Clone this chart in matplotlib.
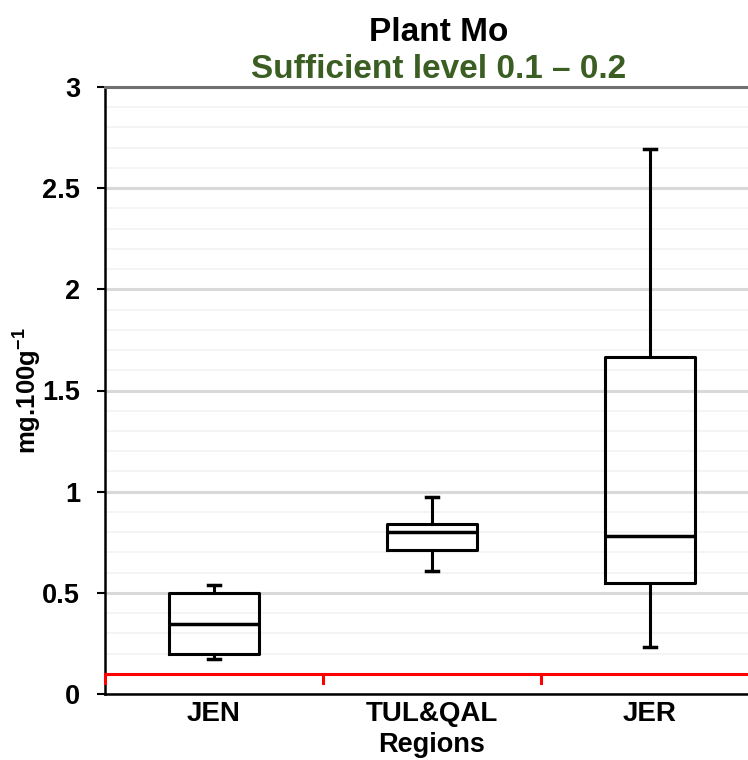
import matplotlib.pyplot as plt
from matplotlib.ticker import MultipleLocator

plt.rcParams['font.family'] = ['Liberation Sans', 'DejaVu Sans']
plt.rcParams['mathtext.fontset'] = 'custom'
plt.rcParams['mathtext.bf'] = 'Liberation Sans:bold'
plt.rcParams['mathtext.rm'] = 'Liberation Sans'

regions = ["JEN", "TUL&QAL", "JER"]
whislo = [0.173, 0.609, 0.234]
q1 = [0.198, 0.712, 0.549]
med = [0.346, 0.800, 0.781]
q3 = [0.500, 0.840, 1.668]
whishi = [0.537, 0.972, 2.693]
sufficient_low = 0.1

stats = [dict(label=r, whislo=lo, q1=a, med=m, q3=b, whishi=hi)
         for r, lo, a, m, b, hi in zip(regions, whislo, q1, med, q3, whishi)]

fig = plt.figure(figsize=(7.48, 7.60), dpi=100)
# plot area runs past the right edge of the picture, as in the reference
ax = fig.add_axes([105 / 748, 66 / 760, 654 / 748, 607 / 760])

ax.yaxis.set_minor_locator(MultipleLocator(0.1))
ax.grid(axis='y', which='minor', color='#f2f2f2', lw=1.2, zorder=0)
ax.grid(axis='y', which='major', color='#d9d9d9', lw=2.2, zorder=0)

ax.bxp(stats, positions=range(len(regions)), widths=0.41, capwidths=0.055,
       showfliers=False, patch_artist=False,
       boxprops=dict(color='black', lw=2.2),
       medianprops=dict(color='black', lw=2.5),
       whiskerprops=dict(color='black', lw=2.2),
       capprops=dict(color='black', lw=2.5))

# red reference line at the sufficient level with category-boundary ticks
ax.axhline(sufficient_low, color='red', lw=2.2, zorder=3)
for xb in [-0.5, 0.5, 1.5, 2.5]:
    ax.plot([xb, xb], [sufficient_low, sufficient_low - 0.045], color='red',
            lw=2.2, zorder=3, clip_on=False)

ax.set_xlim(-0.5, 2.5)
ax.set_ylim(0, 3)
ax.set_yticks([0, 0.5, 1, 1.5, 2, 2.5, 3])
ax.set_yticklabels(['0', '0.5', '1', '1.5', '2', '2.5', '3'])
ax.tick_params(axis='y', which='major', length=6, width=1.5, pad=12,
               labelsize=19.5)
ax.tick_params(axis='y', which='minor', length=0)
ax.tick_params(axis='x', length=0, pad=5, labelsize=20)
for lab in ax.get_yticklabels() + ax.get_xticklabels():
    lab.set_fontweight('bold')

ax.spines['right'].set_visible(False)
ax.spines['top'].set_color('#707070')
ax.spines['top'].set_linewidth(2.2)
ax.spines['left'].set_linewidth(1.8)
ax.spines['bottom'].set_linewidth(1.8)

ax.set_xlabel('Regions', fontsize=19.5, fontweight='bold')
ax.xaxis.set_label_coords(0.5, -38 / 607)
ax.set_ylabel(r'mg.100g$^{\mathbf{-1}}$', fontsize=18.5, fontweight='bold')
ax.yaxis.set_label_coords(-62 / 654, 0.5)

fig.text(0.586, 0.957, 'Plant Mo', ha='center', va='center', fontsize=24,
         fontweight='bold')
fig.text(0.586, 0.909, 'Sufficient level 0.1 \u2013 0.2', ha='center',
         va='center', fontsize=24, fontweight='bold', color='#3b5e23')

fig.savefig('out.png', dpi=100)
